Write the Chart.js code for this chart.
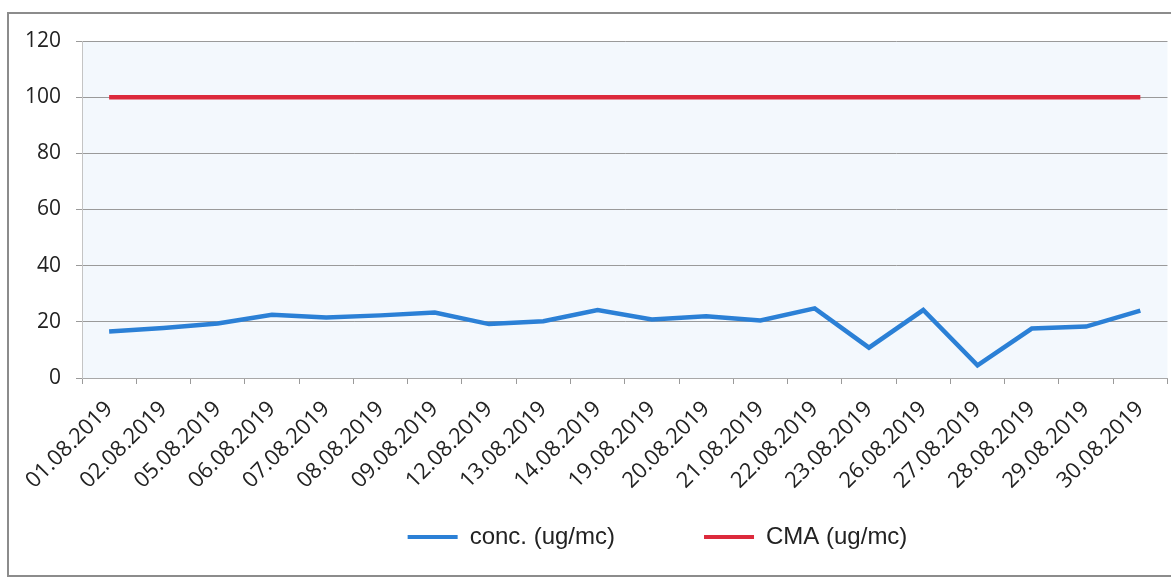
<!DOCTYPE html>
<html>
<head>
<meta charset="utf-8">
<script src="https://cdn.jsdelivr.net/npm/chart.js@4.4.1/dist/chart.umd.min.js"></script>
<style>
  html, body { margin: 0; padding: 0; background: #fff; }
  #wrap { width: 1171px; height: 578px; }
</style>
</head>
<body>
<div id="wrap"><canvas id="lineChart" width="1171" height="578"></canvas></div>
<script>
var dates = ["01.08.2019", "02.08.2019", "05.08.2019", "06.08.2019", "07.08.2019",
  "08.08.2019", "09.08.2019", "12.08.2019", "13.08.2019", "14.08.2019",
  "19.08.2019", "20.08.2019", "21.08.2019", "22.08.2019", "23.08.2019",
  "26.08.2019", "27.08.2019", "28.08.2019", "29.08.2019", "30.08.2019"];
var concValues = [16.6, 17.8, 19.4, 22.5, 21.5, 22.3, 23.3, 19.2, 20.2, 24.2,
  20.8, 22.0, 20.5, 24.8, 10.8, 24.2, 4.5, 17.6, 18.3, 24.0];
var cmaValues = [100, 100, 100, 100, 100, 100, 100, 100, 100, 100,
  100, 100, 100, 100, 100, 100, 100, 100, 100, 100];
var yTicks = [0, 20, 40, 60, 80, 100, 120];

// frame around the whole picture + pale plot background
var framePlugin = {
  id: "frame",
  beforeDraw: function (chart) {
    var ctx = chart.ctx, a = chart.chartArea;
    ctx.save();
    ctx.fillStyle = "#ffffff";
    ctx.fillRect(0, 0, chart.width, chart.height);
    ctx.fillStyle = "#f3f8fd";
    ctx.fillRect(a.left, a.top, a.right - a.left, a.bottom - a.top);
    ctx.strokeStyle = "#8c8c8c";
    ctx.lineWidth = 2;
    ctx.strokeRect(8, 13, 1200, 563);
    ctx.restore();
  },
  // legend sits right of centre in the original
  afterLayout: function (chart) {
    chart.legend.left += 68;
    chart.legend.right += 68;
  }
};

new Chart("lineChart", {
  type: "line",
  data: {
    labels: dates,
    datasets: [{
      label: "conc. (ug/mc)",
      data: concValues,
      borderColor: "#2b80d6",
      backgroundColor: "#2b80d6",
      borderWidth: 4.5,
      pointRadius: 0,
      tension: 0
    }, {
      label: "CMA (ug/mc)",
      data: cmaValues,
      borderColor: "#dc2a3c",
      backgroundColor: "#dc2a3c",
      borderWidth: 4.5,
      pointRadius: 0,
      tension: 0
    }]
  },
  plugins: [framePlugin],
  options: {
    responsive: false,
    animation: false,
    layout: { padding: { left: 8, right: 0, top: 41, bottom: 19 } },
    scales: {
      x: {
        offset: true,
        grid: { offset: true, drawOnChartArea: false, drawTicks: true, tickLength: 6, color: "#9a9a9a" },
        border: { color: "#a8a8a8" },
        ticks: {
          autoSkip: false, maxRotation: 45, minRotation: 45, padding: 12, labelOffset: 0,
          color: "#222", font: { family: "Open Sans", size: 22 }
        },
        afterFit: function (s) { s.height = 118; }
      },
      y: {
        min: 0, max: 120,
        afterBuildTicks: function (s) { s.ticks = yTicks.map(function (v) { return { value: v }; }); },
        grid: { color: "#9a9a9a", tickLength: 6 },
        border: { color: "#c4c4c4" },
        ticks: { color: "#222", padding: 15, font: { family: "Open Sans", size: 21 } },
        afterFit: function (s) { s.width = 74; }
      }
    },
    plugins: {
      legend: {
        position: "bottom",
        labels: {
          boxWidth: 50, boxHeight: 4, padding: 29,
          color: "#222", font: { family: "Liberation Sans", size: 24 },
          generateLabels: function (chart) {
            var items = Chart.defaults.plugins.legend.labels.generateLabels(chart);
            items.forEach(function (it) { it.lineWidth = 0; });
            items[0].text += "\u00a0\u00a0\u00a0\u00a0\u00a0\u00a0\u00a0\u00a0\u00a0";
            return items;
          }
        }
      },
      tooltip: { enabled: false }
    }
  }
});
</script>
</body>
</html>
